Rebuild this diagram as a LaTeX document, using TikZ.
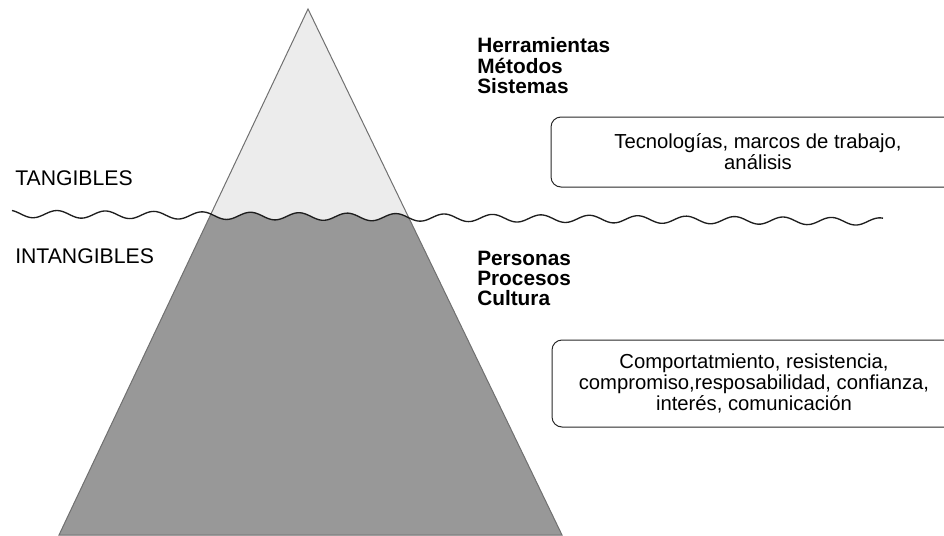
\documentclass[tikz,border=0pt]{standalone}
\usepackage{fontspec}
\setmainfont{Liberation Sans}
\definecolor{hielo}{RGB}{236,236,236}
\definecolor{hielobajo}{RGB}{152,152,152}
\definecolor{borde}{RGB}{112,112,112}
\tikzset{
  infobox/.style={draw={rgb,255:red,40;green,40;blue,40},line width=0.75pt,rounded corners=7.5pt,align=center,inner sep=0pt,font=\fontsize{15.2}{15.8}\selectfont},
  etiqueta/.style={inner sep=0pt,font=\fontsize{15.9}{16}\selectfont},
  lista/.style={inner sep=0pt,align=left,font=\fontsize{15.6}{15.4}\selectfont\bfseries}
}
\begin{document}
\begin{tikzpicture}[x=0.75pt,y=0.75pt,yscale=-1,xscale=1]
    \path[use as bounding box,clip] (0,0) rectangle (944,535);
    %Shape: Triangle top
    \fill[hielo] (308,9) -- (59,535) -- (562,535) -- cycle ;
    %Shape: Triangle under water
    \begin{scope}
      \clip (308,9) -- (59,535) -- (562,535) -- cycle ;
      \fill[hielobajo] plot[domain=12:883,samples=400] (\x,{214+0.0089*(\x-30)-3.7*cos(7.438*(\x-57))}) -- (883,540) -- (12,540) -- cycle ;
    \end{scope}
    \draw[borde,line width=0.75pt] (308,9) -- (59,535) -- (562,535) -- cycle ;
    %Wavy line
    \draw[line width=1pt,color={rgb,255:red,30;green,30;blue,30}] plot[domain=12:883,samples=400] (\x,{214+0.0089*(\x-30)-3.7*cos(7.438*(\x-57))}) ;

    % Text Node
    \node[etiqueta,anchor=base west] (tangibles) at (15,185) {TANGIBLES};
    % Text Node
    \node[etiqueta,anchor=base west] (intangibles) at (15,263) {INTANGIBLES};
    % Text Node
    \node[lista,anchor=north west] (herram) at (477,37.3) {Herramientas\\Métodos\\Sistemas};
    % Text Node
    \node[lista,anchor=north west,font=\fontsize{15.6}{14.8}\selectfont\bfseries] (personas) at (477,251) {Personas\\Procesos\\Cultura};
    % Box
    \node[infobox,minimum width=310.5pt,minimum height=52.5pt] (tecno) at (758,152) {Tecnologías, marcos de trabajo,\\análisis};
    % Box
    \node[infobox,minimum width=303pt,minimum height=65.25pt] (compor) at (754,383.5) {Comportatmiento, resistencia,\\compromiso,resposabilidad, confianza,\\interés, comunicación};
\end{tikzpicture}
\end{document}
